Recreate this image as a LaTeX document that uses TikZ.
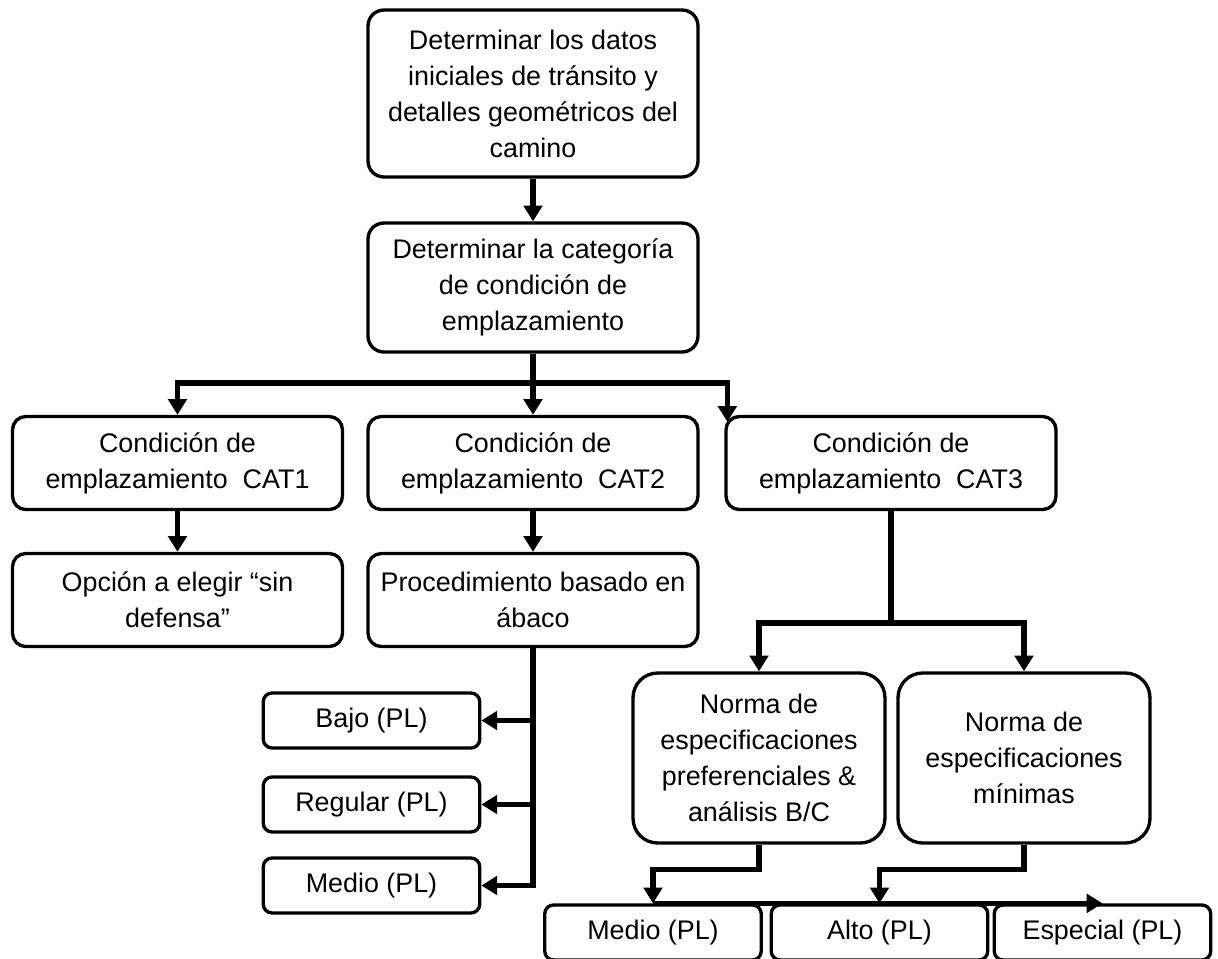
\documentclass[tikz,border=0pt]{standalone}
\usepackage{fontspec}
\setmainfont{Liberation Sans}
\usetikzlibrary{arrows.meta,positioning}
\tikzset{
  bx/.style={draw=black, line width=1.9pt, align=center, inner sep=2pt,
    font=\fontsize{15.3}{20.5}\selectfont},
  bigbox/.style={bx, rounded corners=9pt, minimum width=6.6cm},
  catbox/.style={bx, rounded corners=7.5pt, minimum width=6.6cm, minimum height=1.86cm},
  normbox/.style={bx, rounded corners=14pt, minimum width=5.04cm, minimum height=3.4cm},
  lvlbox/.style={bx, rounded corners=5pt, minimum width=4.33cm, minimum height=1.1cm},
  conn/.style={line width=3.1pt, -{Triangle[length=9pt,width=10.5pt]}},
  trunk/.style={line width=3.1pt},
}

\begin{document}
\begin{tikzpicture}[x=0.02cm,y=-0.02cm]
\useasboundingbox (0,0) rectangle (1218,958);
% upper part
\node[bigbox, minimum height=3.34cm] (inicio) at (533,93.5)
  {Determinar los datos\\iniciales de tránsito y\\detalles geométricos del\\camino};
\node[bigbox, minimum height=2.58cm] (categoria) at (533,287.5)
  {Determinar la categoría\\de condición de\\emplazamiento};
\node[catbox] (cat1) at (177.5,463) {Condición de\\emplazamiento\ \ CAT1};
\node[catbox] (cat2) at (533,463) {Condición de\\emplazamiento\ \ CAT2};
\node[catbox] (cat3) at (891,463) {Condición de\\emplazamiento\ \ CAT3};
\node[catbox] (opcion) at (177.5,600) {Opción a elegir “sin\\defensa”};
\node[catbox] (abaco) at (533,600) {Procedimiento basado en\\ábaco};
% levels from the chart
\node[lvlbox] (bajo) at (371.5,720.5) {Bajo (PL)};
\node[lvlbox] (regular) at (371.5,804.5) {Regular (PL)};
\node[lvlbox] (medio) at (371.5,885.5) {Medio (PL)};
% CAT3 branch
\node[normbox] (normaA) at (759,758)
  {Norma de\\especificaciones\\preferenciales \&\\análisis B/C};
\node[normbox] (normaB) at (1024,758)
  {Norma de\\especificaciones\\mínimas};
\node[lvlbox] (medioB) at (653,932.5) {Medio (PL)};
\node[lvlbox] (alto) at (879.5,932.5) {Alto (PL)};
\node[lvlbox] (especial) at (1102.5,932.5) {Especial (PL)};

\coordinate (bus) at (533,383);
\coordinate (split) at (891,623);

\draw[conn] (inicio) -- (categoria);
\draw[conn] (categoria) -- (cat2);
\draw[conn] (bus) -| (cat1);
\draw[conn] (bus) -| ([xshift=0.06cm,yshift=-0.14cm]cat3.north west);
\draw[conn] (cat1) -- (opcion);
\draw[conn] (cat2) -- (abaco);
\draw[conn] (abaco) |- (bajo);
\draw[conn] (abaco) |- (regular);
\draw[conn] (abaco) |- (medio);
\draw[trunk] (cat3) -- (split);
\draw[conn] (split) -| (normaA);
\draw[conn] (split) -| (normaB);
\draw[conn] (normaA.south) -- ++(0,25) -| (medioB);
\draw[conn] (normaB.south) -- ++(0,25) -| (alto);
\draw[conn] (medioB.north) -- (especial.north);
\end{tikzpicture}
\end{document}
